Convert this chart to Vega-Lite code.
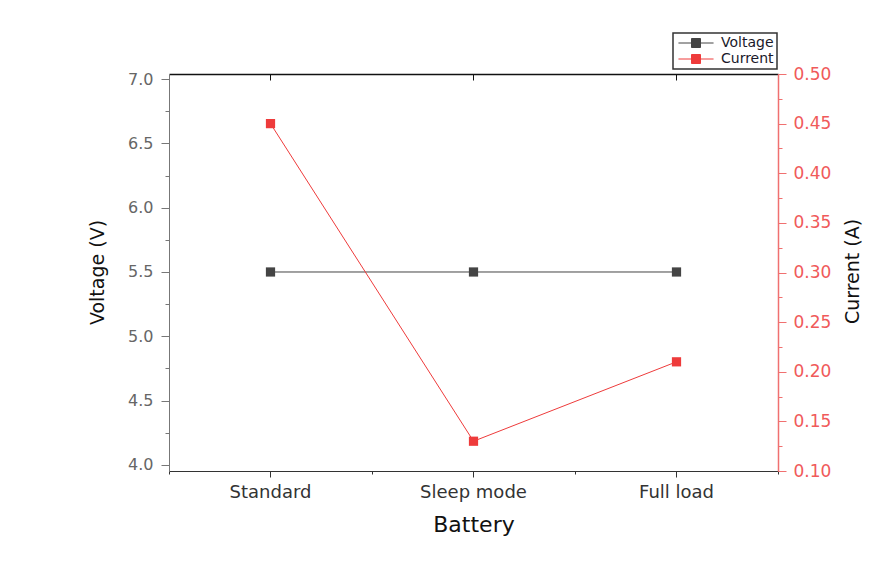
{
  "$schema": "https://vega.github.io/schema/vega-lite/v6.json",
  "width": 609,
  "height": 397,
  "autosize": "none",
  "padding": {"left": 169, "top": 74, "right": 113, "bottom": 92},
  "background": "white",
  "config": {"view": {"stroke": null}, "font": "DejaVu Sans", "axis": {"grid": false}},
  "data": {
    "values": [
      {"Battery": "Standard", "Voltage": 5.5, "Current": 0.45},
      {"Battery": "Sleep mode", "Voltage": 5.5, "Current": 0.13},
      {"Battery": "Full load", "Voltage": 5.5, "Current": 0.21}
    ]
  },
  "layer": [
    {
      "mark": {"type": "line", "strokeWidth": 1},
      "encoding": {
        "x": {
          "field": "Battery", "type": "nominal", "sort": null,
          "scale": {"type": "band", "paddingInner": 0, "paddingOuter": 0},
          "axis": {
            "orient": "bottom", "title": "Battery", "labelAngle": 0, "tickBand": "center",
            "tickSize": 6, "domainColor": "#333", "tickColor": "#333", "labelColor": "#333",
            "labelFontSize": 18, "labelPadding": 6, "titleFontSize": 22, "titleFontWeight": "normal",
            "titleColor": "#111", "titlePadding": 13
          }
        },
        "y": {
          "field": "Voltage", "type": "quantitative",
          "scale": {"domain": [3.953, 7.039], "nice": false, "zero": false},
          "axis": {
            "orient": "left", "title": "Voltage (V)",
            "values": [4, 4.25, 4.5, 4.75, 5, 5.25, 5.5, 5.75, 6, 6.25, 6.5, 6.75, 7],
            "labelExpr": "round(datum.value*4)%2==0 ? format(datum.value,'.1f') : ''",
            "tickSize": {"condition": {"test": "round(datum.value*4)%2==0", "value": 8}, "value": 4},
            "labelPadding": 8, "domainColor": "#777", "tickColor": "#777", "labelColor": "#666",
            "labelFontSize": 16, "titleFontSize": 19, "titleFontWeight": "normal", "titleColor": "#111",
            "titleX": -72, "titleY": 198, "titleAlign": "center", "titleBaseline": "middle", "titleAngle": -90
          }
        },
        "color": {
          "datum": "Voltage", "type": "nominal",
          "scale": {"domain": ["Voltage", "Current"], "range": ["#444444", "#ee3b3b"]},
          "legend": {
            "title": null, "orient": "none", "legendX": 504, "legendY": -41,
            "strokeColor": "#333", "fillColor": "white", "padding": 3,
            "symbolType": "M-3.9,0H-1M1,0H3.9M-1,-1H1V1H-1Z", "symbolSize": 81,
            "symbolStrokeWidth": 1, "symbolOffset": 13, "labelOffset": 18,
            "labelFontSize": 14, "labelColor": "#1a1a2a", "rowPadding": 2,
            "encode": {
              "legend": {"update": {"strokeWidth": {"value": 1.5}}},
              "symbols": {
                "update": {
                  "fill": {"scale": "color", "field": "value"},
                  "stroke": {"scale": "color", "field": "value"},
                  "opacity": {"value": 1}
                }
              }
            }
          }
        }
      }
    },
    {
      "mark": {"type": "square", "size": 85, "opacity": 1},
      "encoding": {
        "x": {
          "field": "Battery", "type": "nominal", "sort": null,
          "axis": {
            "orient": "bottom", "labels": false, "title": null, "domain": false,
            "tickBand": "extent", "tickSize": 3, "tickColor": "#333"
          }
        },
        "y": {
          "field": "Voltage", "type": "quantitative",
          "scale": {"domain": [3.953, 7.039], "nice": false, "zero": false},
          "axis": null
        },
        "color": {"datum": "Voltage", "type": "nominal"}
      }
    },
    {
      "mark": {"type": "line", "strokeWidth": 1},
      "encoding": {
        "x": {
          "field": "Battery", "type": "nominal", "sort": null,
          "axis": {
            "orient": "top", "labels": false, "title": null, "tickBand": "center",
            "tickSize": -6, "domainColor": "#111", "domainWidth": 1.5, "tickColor": "#111"
          }
        },
        "y": {
          "field": "Current", "type": "quantitative",
          "scale": {"domain": [0.1, 0.5], "nice": false, "zero": false},
          "axis": {
            "orient": "right", "title": "Current (A)",
            "values": [0.1, 0.125, 0.15, 0.175, 0.2, 0.225, 0.25, 0.275, 0.3, 0.325, 0.35, 0.375, 0.4, 0.425, 0.45, 0.475, 0.5],
            "labelExpr": "round(datum.value*40)%2==0 ? format(datum.value,'.2f') : ''",
            "tickSize": {"condition": {"test": "round(datum.value*40)%2==0", "value": 8}, "value": 4},
            "labelPadding": 7, "domainColor": "#f07070", "domainWidth": 1.5, "tickColor": "#f07070",
            "labelColor": "#f05a5a", "labelFontSize": 17, "titleFontSize": 19, "titleFontWeight": "normal",
            "titleColor": "#111", "titleX": 74, "titleY": 197, "titleAlign": "center",
            "titleBaseline": "middle", "titleAngle": -90
          }
        },
        "color": {"datum": "Current", "type": "nominal"}
      }
    },
    {
      "mark": {"type": "square", "size": 85, "opacity": 1},
      "encoding": {
        "x": {"field": "Battery", "type": "nominal", "sort": null, "axis": null},
        "y": {
          "field": "Current", "type": "quantitative",
          "scale": {"domain": [0.1, 0.5], "nice": false, "zero": false},
          "axis": null
        },
        "color": {"datum": "Current", "type": "nominal"}
      }
    }
  ],
  "resolve": {"scale": {"y": "independent"}, "axis": {"x": "independent", "y": "independent"}}
}
